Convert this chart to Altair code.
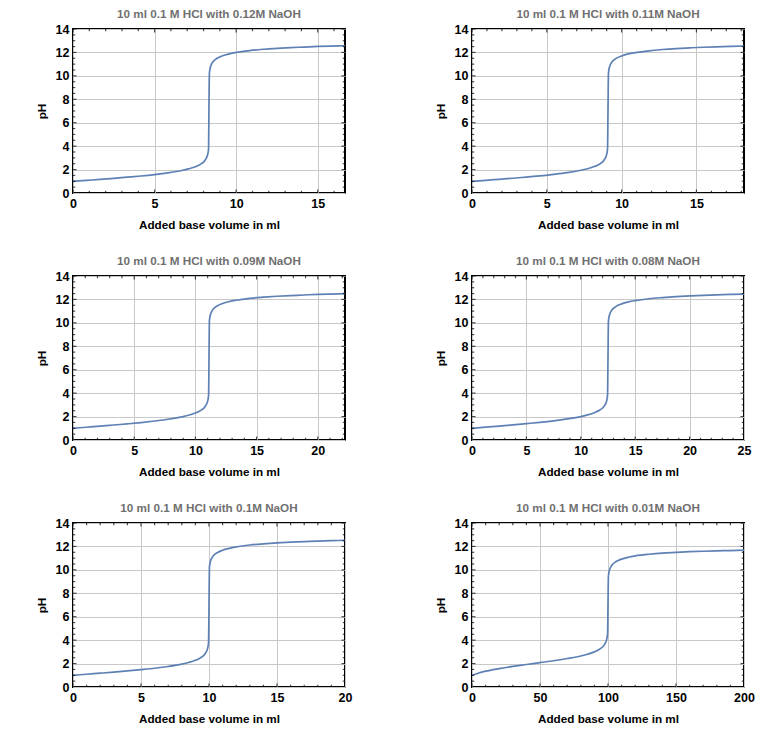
import altair as alt
import pandas as pd
import numpy as np

LINE_COLOR = "#5E81B5"

titles = [
    "10 ml 0.1 M HCl with 0.12M NaOH",
    "10 ml 0.1 M HCl with 0.11M NaOH",
    "10 ml 0.1 M HCl with 0.09M NaOH",
    "10 ml 0.1 M HCl with 0.08M NaOH",
    "10 ml 0.1 M HCl with 0.1M NaOH",
    "10 ml 0.1 M HCl with 0.01M NaOH",
]

x_max = [16.67, 18.18, 22.22, 25.0, 20.0, 200.0]
x_major = [
    [0, 5, 10, 15],
    [0, 5, 10, 15],
    [0, 5, 10, 15, 20],
    [0, 5, 10, 15, 20, 25],
    [0, 5, 10, 15, 20],
    [0, 50, 100, 150, 200],
]
x_minor_step = [1, 1, 1, 1, 1, 10]
y_major = [0, 2, 4, 6, 8, 10, 12, 14]
y_minor_step = 0.5

V1 = [0, 0.83, 1.67, 2.50, 3.33, 4.17, 5.00, 5.83, 6.67, 7.08, 7.50, 7.83, 8.08, 8.25, 8.31, 8.33,
      8.36, 8.42, 8.58, 8.83, 9.17, 9.58, 10.00, 10.83, 11.67, 12.50, 13.33, 14.17, 15.00, 15.83, 16.67]
pH1 = [1.00, 1.08, 1.16, 1.25, 1.35, 1.45, 1.57, 1.72, 1.92, 2.06, 2.24, 2.47, 2.78, 3.26, 3.79, 7.00,
       10.21, 10.74, 11.21, 11.50, 11.72, 11.88, 12.00, 12.16, 12.27, 12.35, 12.41, 12.46, 12.51, 12.54, 12.57]

V2 = [0, 0.91, 1.82, 2.73, 3.64, 4.55, 5.45, 6.36, 7.27, 7.73, 8.18, 8.55, 8.82, 9.00, 9.06, 9.09,
      9.12, 9.18, 9.36, 9.64, 10.00, 10.45, 10.91, 11.82, 12.73, 13.64, 14.55, 15.45, 16.36, 17.27, 18.18]
pH2 = [1.00, 1.08, 1.17, 1.26, 1.36, 1.46, 1.59, 1.74, 1.94, 2.07, 2.26, 2.49, 2.80, 3.28, 3.80, 7.00,
       10.20, 10.72, 11.19, 11.49, 11.70, 11.87, 11.98, 12.14, 12.25, 12.33, 12.39, 12.44, 12.48, 12.52, 12.55]

V3 = [0, 1.11, 2.22, 3.33, 4.44, 5.56, 6.67, 7.78, 8.89, 9.44, 10.00, 10.44, 10.78, 11.00, 11.08, 11.11,
      11.14, 11.22, 11.44, 11.78, 12.22, 12.78, 13.33, 14.44, 15.56, 16.67, 17.78, 18.89, 20.00, 21.11, 22.22]
pH3 = [1.00, 1.09, 1.18, 1.28, 1.38, 1.49, 1.62, 1.77, 1.98, 2.11, 2.30, 2.53, 2.84, 3.32, 3.85, 7.00,
       10.15, 10.67, 11.15, 11.44, 11.65, 11.82, 11.93, 12.09, 12.19, 12.27, 12.33, 12.38, 12.43, 12.46, 12.49]

V4 = [0, 1.25, 2.50, 3.75, 5.00, 6.25, 7.50, 8.75, 10.00, 10.63, 11.25, 11.75, 12.13, 12.38, 12.46, 12.50,
      12.54, 12.63, 12.88, 13.25, 13.75, 14.38, 15.00, 16.25, 17.50, 18.75, 20.00, 21.25, 22.50, 23.75, 25.00]
pH4 = [1.00, 1.10, 1.19, 1.29, 1.40, 1.51, 1.64, 1.80, 2.00, 2.14, 2.33, 2.56, 2.87, 3.35, 3.87, 7.00,
       10.13, 10.65, 11.12, 11.41, 11.62, 11.79, 11.90, 12.06, 12.16, 12.24, 12.30, 12.35, 12.39, 12.43, 12.46]

V5 = [0, 1, 2, 3, 4, 5, 6, 7, 8, 8.5, 9, 9.4, 9.7, 9.9, 9.97, 10,
      10.03, 10.1, 10.3, 10.6, 11, 11.5, 12, 13, 14, 15, 16, 17, 18, 19, 20]
pH5 = [1.00, 1.09, 1.18, 1.27, 1.37, 1.48, 1.60, 1.75, 1.95, 2.09, 2.28, 2.51, 2.82, 3.30, 3.82, 7.00,
       10.18, 10.70, 11.17, 11.46, 11.68, 11.84, 11.96, 12.12, 12.22, 12.30, 12.36, 12.41, 12.46, 12.49, 12.52]

V6 = [0, 5, 10, 20, 30, 40, 50, 60, 70, 80, 85, 90, 94, 97, 99, 99.7, 100,
      100.3, 101, 103, 106, 110, 115, 120, 130, 140, 150, 160, 170, 180, 190, 200]
pH6 = [1.00, 1.20, 1.35, 1.57, 1.76, 1.92, 2.08, 2.24, 2.43, 2.65, 2.80, 3.00, 3.24, 3.55, 4.04, 4.56, 7.00,
       9.44, 9.95, 10.42, 10.71, 10.92, 11.08, 11.19, 11.33, 11.43, 11.49, 11.55, 11.59, 11.62, 11.65, 11.68]

volumes = [V1, V2, V3, V4, V5, V6]
phs = [pH1, pH2, pH3, pH4, pH5, pH6]

MAJOR_LEN = 7
MINOR_LEN = 4.5


def tick_table(major, vmax, step):
    minor = [round(v, 6) for v in np.arange(0, vmax + 1e-9, step)
             if all(abs(v - m) > 1e-9 for m in major)]
    return pd.DataFrame({"t": list(major) + minor,
                         "s": [MAJOR_LEN] * len(major) + [MINOR_LEN] * len(minor)})


def panel(i):
    xs = alt.Scale(domain=[0, x_max[i]], nice=False, zero=False)
    ys = alt.Scale(domain=[0, 14], nice=False, zero=False)
    xaxis = alt.Axis(values=x_major[i], title="Added base volume in ml")
    yaxis = alt.Axis(values=y_major, title="pH")
    df = pd.DataFrame({"V": volumes[i], "pH": phs[i]})
    line = alt.Chart(df).mark_line(
        color=LINE_COLOR, strokeWidth=1.7, interpolate="monotone", clip=True
    ).encode(
        x=alt.X("V:Q", scale=xs, axis=xaxis),
        y=alt.Y("pH:Q", scale=ys, axis=yaxis),
    )
    xt = tick_table(x_major[i], x_max[i], x_minor_step[i])
    yt = tick_table(y_major, 14, y_minor_step)
    size = alt.Size("s:Q", scale=None, legend=None)
    tx = alt.Chart(xt).mark_tick(orient="vertical", color="black", thickness=1.2, clip=True)
    bottom = tx.encode(x=alt.X("t:Q", scale=xs, axis=xaxis),
                       y=alt.YDatum(0, axis=yaxis), size=size)
    top = tx.encode(x=alt.X("t:Q", scale=xs, axis=xaxis),
                    y=alt.YDatum(14, axis=yaxis), size=size)
    ty = alt.Chart(yt).mark_tick(orient="horizontal", color="black", thickness=1.2, clip=True)
    left = ty.encode(y=alt.Y("t:Q", scale=ys, axis=yaxis),
                     x=alt.XDatum(0, axis=xaxis), size=size)
    right = ty.encode(y=alt.Y("t:Q", scale=ys, axis=yaxis),
                      x=alt.XDatum(x_max[i], axis=xaxis), size=size)
    return alt.layer(line, bottom, top, left, right).properties(
        width=272, height=164, title=titles[i]
    )


FONT = "Liberation Sans"

chart = alt.concat(
    *[panel(i) for i in range(6)],
    columns=2,
    spacing={"row": 83, "column": 127},
    bounds="flush",
).properties(
    padding={"left": 27, "top": 0, "right": 5, "bottom": 0}
).configure_view(
    stroke="black", strokeWidth=2
).configure_axis(
    grid=True, gridColor="#c8c8c8", gridWidth=1, domain=False, ticks=False,
    labelFont=FONT, labelFontSize=12.5, labelFontWeight="bold", labelColor="black",
    labelPadding=4, labelFlush=False,
    titleFont=FONT, titleFontSize=11.7, titleFontWeight="bold", titleColor="black",
).configure_axisX(
    titlePadding=10
).configure_axisY(
    titlePadding=8
).configure_title(
    font=FONT, fontSize=11.7, fontWeight="bold", color="#707070", offset=2, anchor="middle"
)

chart.save("out.html", embed_options={"renderer": "svg", "actions": False})
